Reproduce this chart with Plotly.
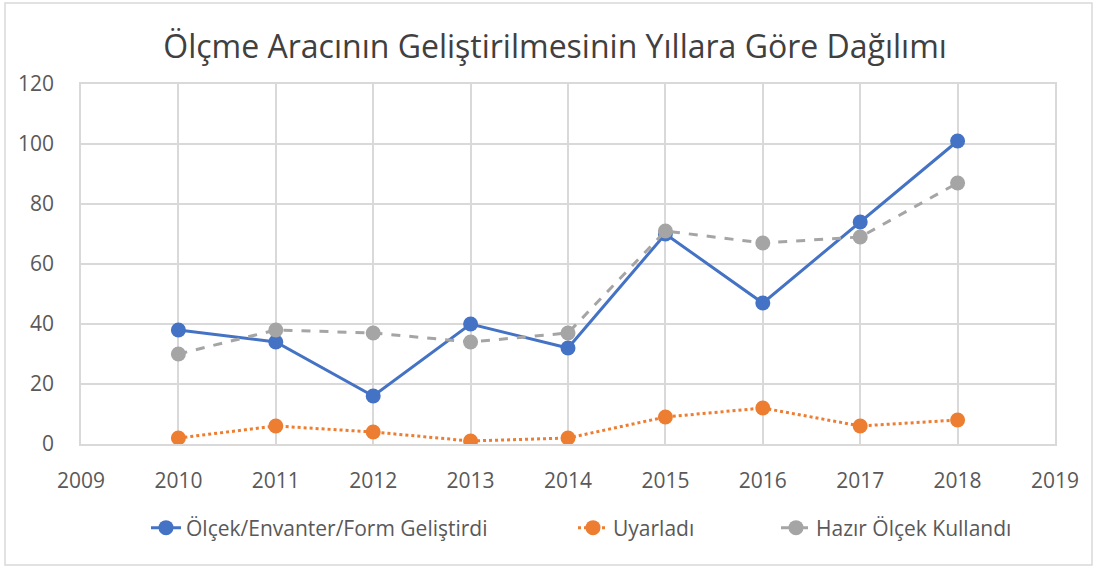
import plotly.graph_objects as go

years = [2010, 2011, 2012, 2013, 2014, 2015, 2016, 2017, 2018]
gelistirdi = [38, 34, 16, 40, 32, 70, 47, 74, 101]
uyarladi = [2, 6, 4, 1, 2, 9, 12, 6, 8]
hazir = [30, 38, 37, 34, 37, 71, 67, 69, 87]

names = ["Ölçek/Envanter/Form Geliştirdi", "Uyarladı", "Hazır Ölçek Kullandı"]
colors = ["#4472C4", "#ED7D31", "#A5A5A5"]
dashes = ["solid", "dot", "dash"]
series = [gelistirdi, uyarladi, hazir]
legend_ids = ["legend", "legend2", "legend3"]
legend_text_px = [186, 613, 816]

FONT = "Open Sans"
W, H = 1097, 569
L, R, T, B = 81, 42, 84, 125

fig = go.Figure()
for s, n, c, d, lg in zip(series, names, colors, dashes, legend_ids):
    fig.add_trace(go.Scatter(
        x=years, y=s, name=n, mode="lines+markers",
        line=dict(color=c, width=3, dash=d),
        marker=dict(color=c, size=15),
        legend=lg,
    ))

pw, ph = W - L - R, H - T - B
def px_x(p):
    return (p - L) / pw
def px_y(p):
    return (H - B - p) / ph

legend_layout = {}
for lg, tx in zip(legend_ids, legend_text_px):
    legend_layout[lg] = dict(
        orientation="h", x=(tx - 40) / W, xref="container", xanchor="left",
        y=1 - 528 / H, yref="container", yanchor="middle",
        font=dict(family=FONT, size=21, color="#595959"),
        bgcolor="rgba(0,0,0,0)")

fig.update_layout(
    width=W, height=H,
    margin=dict(l=L, r=R, t=T, b=B),
    paper_bgcolor="white", plot_bgcolor="white",
    title=dict(text="Ölçme Aracının Geliştirilmesinin Yıllara Göre Dağılımı",
               x=0.506, xref="container", xanchor="center",
               y=1 - 47 / H, yref="container", yanchor="middle",
               font=dict(family=FONT, size=32, color="#404040")),
    font=dict(family=FONT, color="#595959"),
    xaxis=dict(range=[2009, 2019], dtick=1, tick0=2009, showgrid=True,
               gridcolor="#D9D9D9", gridwidth=1.5, zeroline=False,
               showline=True, linecolor="#D9D9D9", linewidth=1.5, mirror=True,
               ticks="outside", ticklen=17, tickcolor="rgba(0,0,0,0)",
               tickfont=dict(family=FONT, size=21, color="#595959")),
    yaxis=dict(range=[0, 120], dtick=20, showgrid=True,
               gridcolor="#D9D9D9", gridwidth=1.5, zeroline=False,
               showline=True, linecolor="#D9D9D9", linewidth=1.5, mirror=True,
               ticks="outside", ticklen=21, tickcolor="rgba(0,0,0,0)",
               tickfont=dict(family=FONT, size=21, color="#595959")),
    showlegend=True,
    shapes=[dict(type="rect", xref="paper", yref="paper",
                 x0=px_x(5), x1=px_x(1092), y0=px_y(565), y1=px_y(3),
                 line=dict(color="#D9D9D9", width=1.5), fillcolor="rgba(0,0,0,0)",
                 layer="below")],
    **legend_layout,
)

fig.write_html("out.html", config={"displayModeBar": False},
               post_script="document.body.style.margin='0';")
